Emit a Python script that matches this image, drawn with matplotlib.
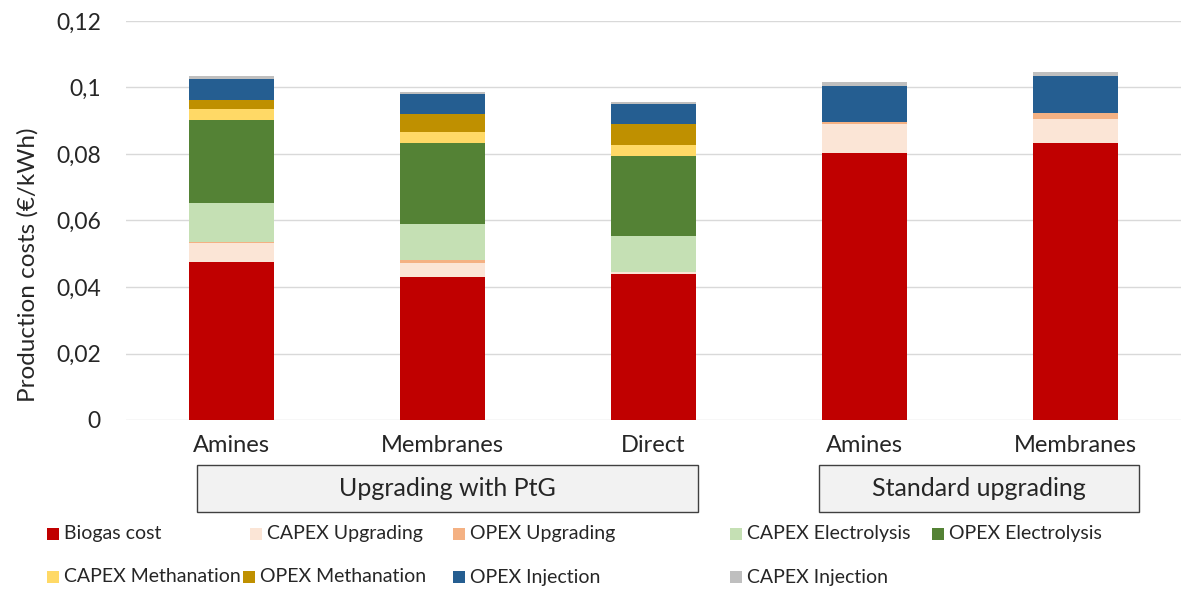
import numpy as np
import matplotlib.pyplot as plt
from matplotlib.patches import Rectangle
from matplotlib.ticker import FuncFormatter
import matplotlib.transforms as mtransforms

plt.rcParams['font.family'] = ['Lato', 'DejaVu Sans']

categories = ['Amines', 'Membranes', 'Direct', 'Amines', 'Membranes']
groups = ['Upgrading with PtG', 'Standard upgrading']

series = ['Biogas cost', 'CAPEX Upgrading', 'OPEX Upgrading', 'CAPEX Electrolysis',
          'OPEX Electrolysis', 'CAPEX Methanation', 'OPEX Methanation',
          'OPEX Injection', 'CAPEX Injection']

biogas_cost = [0.0475, 0.0431, 0.0438, 0.0804, 0.0834]
capex_upgrading = [0.0057, 0.0040, 0.0006, 0.0085, 0.0071]
opex_upgrading = [0.0004, 0.0010, 0.0001, 0.0008, 0.0017]
capex_electrolysis = [0.0118, 0.0108, 0.0107, 0.0, 0.0]
opex_electrolysis = [0.0248, 0.0243, 0.0243, 0.0, 0.0]
capex_methanation = [0.0032, 0.0033, 0.0033, 0.0, 0.0]
opex_methanation = [0.0028, 0.0054, 0.0063, 0.0, 0.0]
opex_injection = [0.0065, 0.0060, 0.0060, 0.0108, 0.0112]
capex_injection = [0.0007, 0.0006, 0.0005, 0.0012, 0.0013]

values = [biogas_cost, capex_upgrading, opex_upgrading, capex_electrolysis,
          opex_electrolysis, capex_methanation, opex_methanation,
          opex_injection, capex_injection]
colors = ['#c00000', '#fbe5d6', '#f4b183', '#c5e0b4', '#548235',
          '#ffd966', '#bf9000', '#255e91', '#bfbfbf']

fig = plt.figure(figsize=(11.81, 5.93), dpi=100)
ax = fig.add_axes([126 / 1181, 1 - 420 / 593, 1 - 126 / 1181, (420 - 21) / 593])

x = np.arange(len(categories))
bottom = np.zeros(len(categories))
for name, vals, c in zip(series, values, colors):
    ax.bar(x, vals, 0.4, bottom=bottom, color=c, label=name, zorder=3)
    bottom += np.array(vals)

ax.set_xlim(-0.5, 4.5)
ax.set_ylim(0, 0.12)
ax.set_yticks(np.arange(0, 0.121, 0.02))
ax.yaxis.set_major_formatter(FuncFormatter(lambda v, p: ('%g' % round(v, 3)).replace('.', ',')))
ax.grid(axis='y', color='#d9d9d9', linewidth=1, zorder=0)
for s in ax.spines.values():
    s.set_visible(False)
ax.tick_params(axis='y', length=0, labelsize=16.5, colors='#262626', pad=18)
ax.tick_params(axis='x', length=0, labelsize=17, colors='#262626', pad=11)
ax.set_xticks(x)
ax.set_xticklabels(categories)
ax.set_ylabel('Production costs (€/kWh)', fontsize=17.5, color='#262626')
ax.yaxis.set_label_coords(-0.083, 0.39)

# group boxes under the category labels
trans = mtransforms.blended_transform_factory(ax.transData, fig.transFigure)
box_spans = [(-0.164, 2.211), (2.784, 4.30)]
for (x0, x1), g in zip(box_spans, groups):
    y0 = 1 - 512 / 593
    h = 47 / 593
    ax.add_patch(Rectangle((x0, y0), x1 - x0, h, transform=trans, clip_on=False,
                           facecolor='#f2f2f2', edgecolor='#404040', linewidth=1))
    ax.text((x0 + x1) / 2, y0 + h / 2, g, transform=trans, ha='center', va='center',
            fontsize=18, color='#262626')

# legend laid out like the original
leg_x = [47, 250, 453, 730, 932, 47, 243, 453, 730]
leg_y = [534, 534, 534, 534, 534, 577, 577, 577, 577]
for name, c, lx, ly in zip(series, colors, leg_x, leg_y):
    fig.patches.append(Rectangle((lx / 1181, (593 - ly - 6) / 593), 12 / 1181, 12 / 593,
                                 transform=fig.transFigure, facecolor=c, edgecolor='none'))
    fig.text((lx + 17) / 1181, (593 - ly) / 593, name, ha='left', va='center',
             fontsize=14, color='#262626')

fig.savefig('out.png', dpi=100)
